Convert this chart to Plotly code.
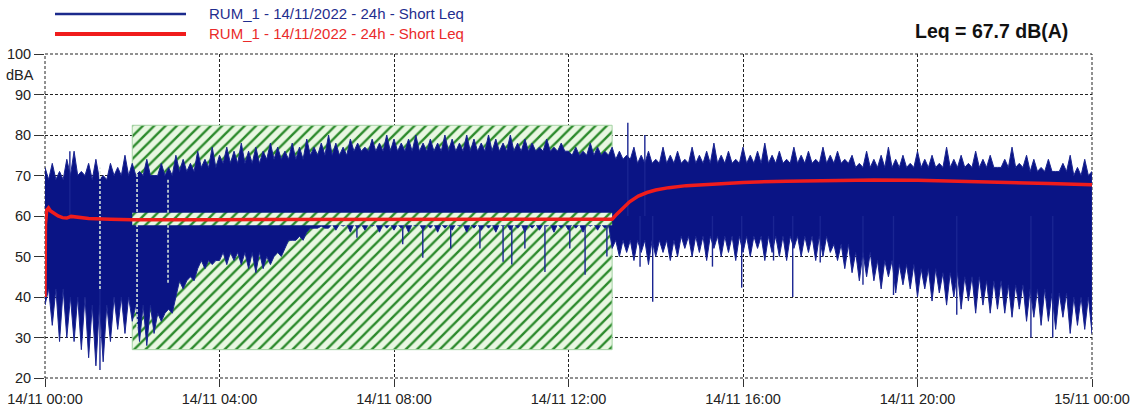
import plotly.graph_objects as go

# ---------------- data ----------------
series_name = "RUM_1 - 14/11/2022 - 24h - Short Leq"
leq_text = "Leq = 67.7 dB(A)"

x_tick_vals = [0, 4, 8, 12, 16, 20, 24]
x_tick_text = ["14/11 00:00", "14/11 04:00", "14/11 08:00", "14/11 12:00",
               "14/11 16:00", "14/11 20:00", "15/11 00:00"]
y_tick_vals = [20, 30, 40, 50, 60, 70, 80, 90, 100]

# solid body edges of the short Leq signal, every 30 minutes (dBA)
body_top_db = [69, 70, 69, 70, 70, 70, 71, 72, 73, 73, 74, 74, 75, 75, 76, 76, 76,
               76, 76, 76, 76, 76, 76, 76, 75, 75, 74, 73, 73, 73, 73, 73, 73, 73,
               73, 73, 73, 72, 72, 72, 72, 72, 72, 72, 72, 71, 71, 70, 70]
body_bottom_db = [42, 40, 38, 40, 38, 36, 44, 49, 51, 51, 50, 54, 57, 58, 58, 58, 58,
                  58, 58, 58, 58, 58, 58, 58, 58, 58, 54, 54, 54, 55, 55, 55, 55, 55,
                  55, 55, 53, 51, 49, 48, 47, 46, 45, 44, 43, 42, 41, 40, 39]

# spike tips above / below the body, every 10 minutes (dBA)
upper_db = [72, 73, 71, 74, 76, 71, 73, 74, 70, 73, 72, 75, 73,
            71, 74, 70, 73, 72, 75, 74, 73, 76, 74, 77, 75, 77, 76, 78, 76, 77, 76, 78, 77,
            76, 78, 77, 79, 77, 78, 80, 78, 77, 79, 78, 77, 79, 78, 80, 79, 78, 79, 80, 78,
            79, 78, 80, 79, 78, 80, 79, 78, 80, 79, 78, 80, 78, 79, 78, 77, 79, 77, 78, 76,
            77, 76, 78, 77, 76, 77,
            76, 75, 77, 75, 76, 74, 77, 75, 76, 74,
            77, 75, 76, 78, 75, 76, 74, 77, 75, 76,
            78, 75, 76, 74, 77, 75, 76, 74, 77, 75,
            76, 74, 75, 73, 76, 74, 75, 77, 74, 75,
            73, 76, 74, 75, 73, 77, 74, 75, 73, 76,
            74, 75, 72, 74, 77, 73, 75, 74, 72, 74,
            71, 73, 75, 72, 74, 71]
lower_db = [38, 33, 29, 30, 29, 27, 25, 23, 24, 29, 32, 31, 34,
            29, 28, 31, 34, 37, 40, 42, 45, 47, 47, 48, 49, 48, 49, 48, 47, 46, 47, 48, 51,
            52, 54, 55, 56, 57, 57.5,
            57, 56.5, 57.5, 56, 57, 56.5, 57.5, 56, 57, 56.5, 57, 56, 57.5, 56.5, 57, 56,
            57, 56.5, 57.5, 56, 57, 56.5, 57, 56, 57.5, 56.5, 57, 56, 57, 56.5, 57.5, 56,
            57, 56.5, 57, 56, 57.5, 56.5, 57,
            52, 50, 51, 49, 51, 48, 50, 51, 49, 50,
            52, 50, 51, 49, 52, 50, 51, 49, 51, 50,
            52, 49, 51, 50, 49, 52, 50, 51, 49, 50,
            51, 49, 47, 46, 44, 45, 44, 42, 45, 41,
            43, 42, 40, 42, 39, 41, 38, 40, 37, 39,
            36, 38, 36, 37, 36, 35, 37, 34, 35, 33,
            34, 32, 35, 31, 33, 32, 31]

# isolated extra spikes: (hour, spike level)
spike_hours = [0.57, 1.26, 7.15, 8.2, 8.66, 9.3, 9.97, 10.5, 10.7, 11.0, 11.46, 12.03,
               12.38, 12.88, 13.36, 13.64, 13.75, 13.93, 15.3, 15.97, 16.7, 17.14, 17.77,
               18.75, 19.45, 20.9, 22.6, 23.1]
spike_to = [76, 22, 54.6, 53, 49.7, 52, 52, 48.7, 48, 52, 46.2, 52,
            45.5, 50, 83, 47.5, 80, 38.8, 47.5, 42.3, 49, 40, 48.5,
            43, 40.5, 35.6, 30, 30]

# gaps in the record (hour, bottom, top)
gap_hours = [1.26, 2.11, 2.82]
gap_bottom = [42, 32.6, 43.5]
gap_top = [72, 70.7, 69]

# cumulative (running) Leq
leq_hours = [0, 0.01, 0.04, 0.08, 0.12, 0.2, 0.3, 0.4, 0.5, 0.6, 0.75, 1.0, 1.5, 2.0,
             4.0, 8.0, 12.0, 13.0, 13.1, 13.25, 13.4, 13.6, 13.8, 14.0, 14.3, 14.7, 15.1,
             15.5, 16.0, 17.0, 18.0, 19.0, 20.0, 21.0, 22.0, 23.0, 24.0]
leq_db = [40, 58, 61.5, 62, 61.3, 60.6, 60.0, 59.6, 59.5, 59.9, 59.7, 59.4, 59.2, 59.1,
          59.1, 59.1, 59.1, 59.2, 60.4, 62.0, 63.5, 64.9, 65.8, 66.4, 67.0, 67.5, 67.8,
          68.1, 68.3, 68.6, 68.8, 68.9, 68.8, 68.6, 68.3, 68.0, 67.7]

# masked (hatched) period and band
mask_start, mask_end = 2.0, 13.0
mask_low, mask_high = 27.0, 82.4
band_low, band_high = 57.7, 60.8

# ---------------- styling ----------------
NAVY = "#0a1485"
SPIKE = "#1a2592"
RED = "#f01c1c"
FONT = "Liberation Sans, Arial, sans-serif"
hatch = dict(shape="/", size=8, solidity=0.3, fgcolor="#2c8a2c", bgcolor="#e9f7e2",
             fillmode="replace")
MID = 60           # level inside the body from which isolated spikes are drawn
STEP = 10 / 60     # 10-minute sampling of the tip arrays (hours)


def body_at(arr, h):
    """solid body level of the 30-minute block containing hour h"""
    return arr[min(int(h * 2), len(arr) - 1)]


# sawtooth outline: tip at each sample, body level half-way to the next one
top_x, top_y = [], []
for i, v in enumerate(upper_db):
    h = i * STEP
    top_x += [h, h + STEP / 2]
    top_y += [v, body_at(body_top_db, h + STEP / 2)]
bot_x, bot_y = [], []
for i, v in enumerate(lower_db):
    h = i * STEP
    bot_x += [h, h + STEP / 2]
    bot_y += [v, body_at(body_bottom_db, h + STEP / 2)]
# keep inside the 24 h window
top = [(x, y) for x, y in zip(top_x, top_y) if x <= 24]
bot = [(x, y) for x, y in zip(bot_x, bot_y) if x <= 24]

fig = go.Figure()

# hatched masked period (below data)
fig.add_trace(go.Scatter(
    x=[mask_start, mask_end, mask_end, mask_start, mask_start],
    y=[mask_low, mask_low, mask_high, mask_high, mask_low],
    mode="lines", fill="toself", fillpattern=hatch, fillcolor="#e9f7e2",
    line=dict(color="#a3d2a3", width=1), showlegend=False, hoverinfo="skip"))

# blue signal
fig.add_trace(go.Scatter(
    x=[p[0] for p in top] + [p[0] for p in bot[::-1]],
    y=[p[1] for p in top] + [p[1] for p in bot[::-1]],
    mode="lines", fill="toself", fillcolor=NAVY,
    line=dict(color=SPIKE, width=1), name=series_name, showlegend=False,
    hoverinfo="skip"))

# isolated spikes
sx, sy = [], []
for h, v in zip(spike_hours, spike_to):
    sx += [h, h, None]
    sy += [MID, v, None]
fig.add_trace(go.Scatter(x=sx, y=sy, mode="lines", line=dict(color=SPIKE, width=1.4),
                         showlegend=False, hoverinfo="skip"))

# gaps
gx, gy = [], []
for h, a, b in zip(gap_hours, gap_bottom, gap_top):
    gx += [h, h, None]
    gy += [a, b, None]
fig.add_trace(go.Scatter(x=gx, y=gy, mode="lines",
                         line=dict(color="#dfeedd", width=1.5, dash="3px,2px"),
                         showlegend=False, hoverinfo="skip"))

# hatched band around Leq within masked period
fig.add_trace(go.Scatter(
    x=[mask_start, mask_end, mask_end, mask_start, mask_start],
    y=[band_low, band_low, band_high, band_high, band_low],
    mode="lines", fill="toself", fillpattern=hatch, fillcolor="#e9f7e2",
    line=dict(color="rgba(0,0,0,0)", width=0), showlegend=False, hoverinfo="skip"))

# running Leq
fig.add_trace(go.Scatter(x=leq_hours, y=leq_db, mode="lines",
                         line=dict(color=RED, width=3.5), name=series_name,
                         showlegend=False, hoverinfo="skip"))

# legend (manual)
def px_x(p):
    return (p - 45) / 1047


def px_y(p):
    return (378 - p) / 324


for yy, col, w, tcol in [(14, "#1b2a8c", 2.3, "#1f2d8e"), (34, RED, 3.8, "#ea2a2a")]:
    fig.add_shape(type="line", xref="paper", yref="paper",
                  x0=px_x(55), x1=px_x(186), y0=px_y(yy), y1=px_y(yy),
                  line=dict(color=col, width=w))
    fig.add_annotation(text=series_name, xref="paper", yref="paper",
                       x=px_x(207), y=px_y(yy), xanchor="left", yanchor="middle",
                       showarrow=False, font=dict(family=FONT, size=15, color=tcol))

fig.add_annotation(text="<b>" + leq_text + "</b>", xref="paper", yref="paper",
                   x=px_x(991), y=px_y(31), xanchor="center", yanchor="middle",
                   showarrow=False, font=dict(family=FONT, size=19.5, color="#111"))
fig.add_annotation(text="dBA", xref="paper", yref="paper",
                   x=px_x(20), y=px_y(75), xanchor="center", yanchor="middle",
                   showarrow=False, font=dict(family=FONT, size=14.5, color="#222"))

# dashed frame
fig.add_shape(type="rect", xref="paper", yref="paper", x0=0, x1=1, y0=0, y1=1,
              line=dict(color="#222", width=1, dash="3px,2px"), layer="below")

axis_common = dict(showgrid=True, gridcolor="#222", gridwidth=1, griddash="3px,2px",
                   zeroline=False, showline=False, ticks="outside", tickcolor="#333",
                   automargin=False,
                   tickfont=dict(family=FONT, size=14.5, color="#222"))
fig.update_xaxes(range=[0, 24], tickvals=x_tick_vals, ticktext=x_tick_text,
                 ticklen=8, **axis_common)
fig.update_yaxes(range=[20, 100], tickvals=y_tick_vals, ticklen=10, **axis_common)

fig.update_layout(width=1138, height=410, margin=dict(l=45, r=46, t=54, b=32),
                  plot_bgcolor="white", paper_bgcolor="white", showlegend=False,
                  hovermode=False, font=dict(family=FONT))

fig.write_html("out.html", config={"displayModeBar": False, "staticPlot": True},
               post_script="document.body.style.margin='0';"
                           "document.body.style.overflow='hidden';")
